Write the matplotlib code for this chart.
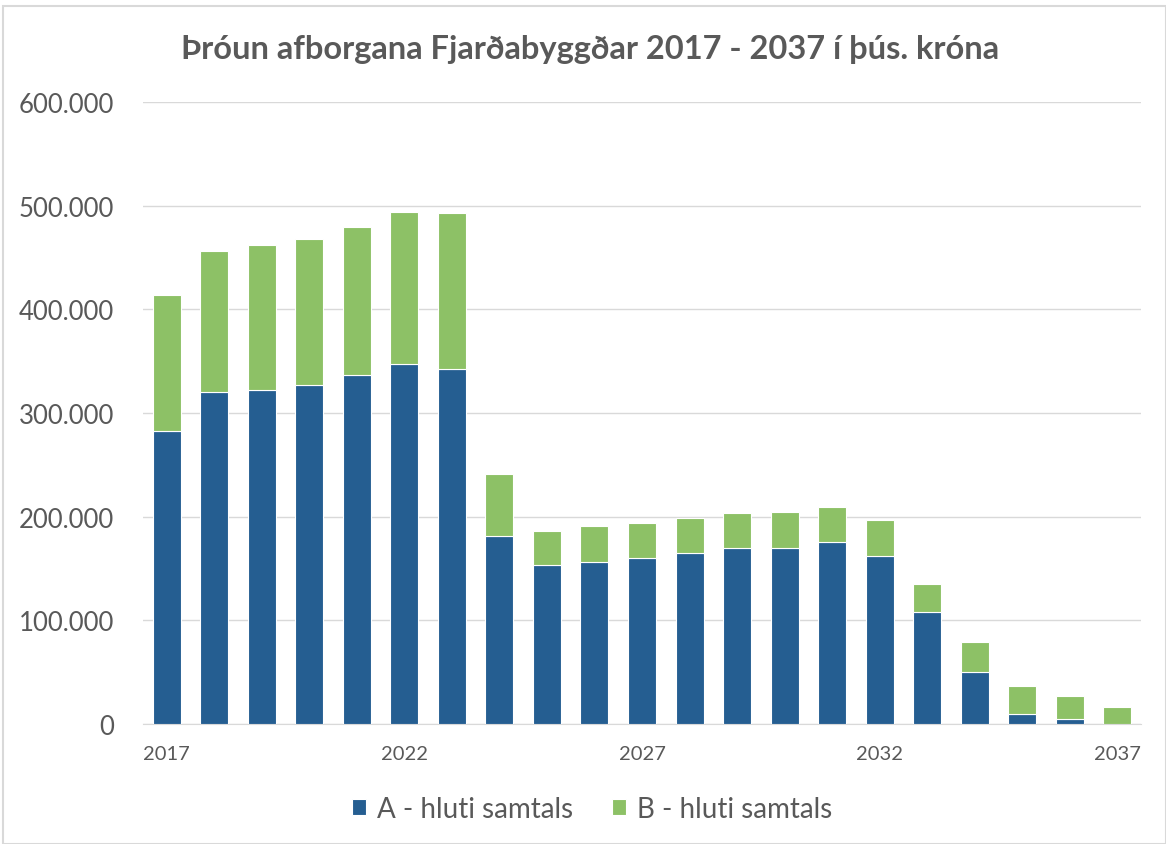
import matplotlib
matplotlib.use("Agg")
import matplotlib.pyplot as plt
from matplotlib.ticker import FuncFormatter
from matplotlib.patches import Rectangle

years = list(range(2017, 2038))
a_hluti = [282600, 320300, 322200, 327000, 336600, 347300, 342400, 181300, 153400, 156300,
           160100, 164900, 169800, 169800, 175600, 162100, 108000, 50200, 9600, 4800, 0]
totals = [413800, 456300, 462100, 467800, 479400, 493900, 492900, 241200, 186200, 191000,
          193900, 198700, 203500, 204500, 209300, 196800, 135000, 79100, 36700, 27000, 16400]
b_hluti = [t - a for t, a in zip(totals, a_hluti)]
tick_years = [2017, 2022, 2027, 2032, 2037]
title = "Þróun afborgana Fjarðabyggðar 2017 - 2037 í þús. króna"
labels = ["A - hluti samtals", "B - hluti samtals"]

blue = "#255E91"
green = "#8DC166"
txt = "#595959"

plt.rcParams['font.family'] = ['Lato', 'DejaVu Sans']

fig = plt.figure(figsize=(11.66, 8.45), dpi=100)
ax = fig.add_axes([143/1166, 1-725/845, (1141-143)/1166, (725-103)/845])

x = list(range(len(years)))
ax.bar(x, a_hluti, width=0.59, color=blue, edgecolor="white", linewidth=0.8, label=labels[0], zorder=3)
ax.bar(x, b_hluti, bottom=a_hluti, width=0.59, color=green, edgecolor="white", linewidth=0.8, label=labels[1], zorder=3)

ax.set_xlim(-0.5, len(years) - 0.5)
ax.set_ylim(0, 600000)
ax.set_yticks(range(0, 600001, 100000))
ax.yaxis.set_major_formatter(FuncFormatter(lambda v, p: f"{int(v):,}".replace(",", ".")))
ax.set_xticks([years.index(y) for y in tick_years])
ax.set_xticklabels([str(y) for y in tick_years])
ax.grid(axis="y", color="#d9d9d9", linewidth=1, zorder=0)
for s in ["top", "right", "left"]:
    ax.spines[s].set_visible(False)
ax.spines["bottom"].set_color("#d9d9d9")
ax.tick_params(axis="y", length=0, labelsize=18.5, labelcolor=txt, pad=21)
ax.tick_params(axis="x", length=0, labelsize=14.5, labelcolor=txt, pad=15)

fig.text(0.506, 1-50/845, title, ha="center", va="center", fontsize=23.5, fontweight="bold", color=txt)

leg = fig.legend(loc="center", bbox_to_anchor=(0.508, 1-810/845), ncol=2, frameon=False,
                 fontsize=20, handlelength=0.5, handleheight=0.5, columnspacing=1.4, handletextpad=0.4)
for t in leg.get_texts():
    t.set_color(txt)

fig.patches.append(Rectangle((3/1166, 0), 1-3/1166, 1-7/845, transform=fig.transFigure,
                             fill=False, edgecolor="#d9d9d9", linewidth=1.5))

fig.savefig("out.png", dpi=100)
